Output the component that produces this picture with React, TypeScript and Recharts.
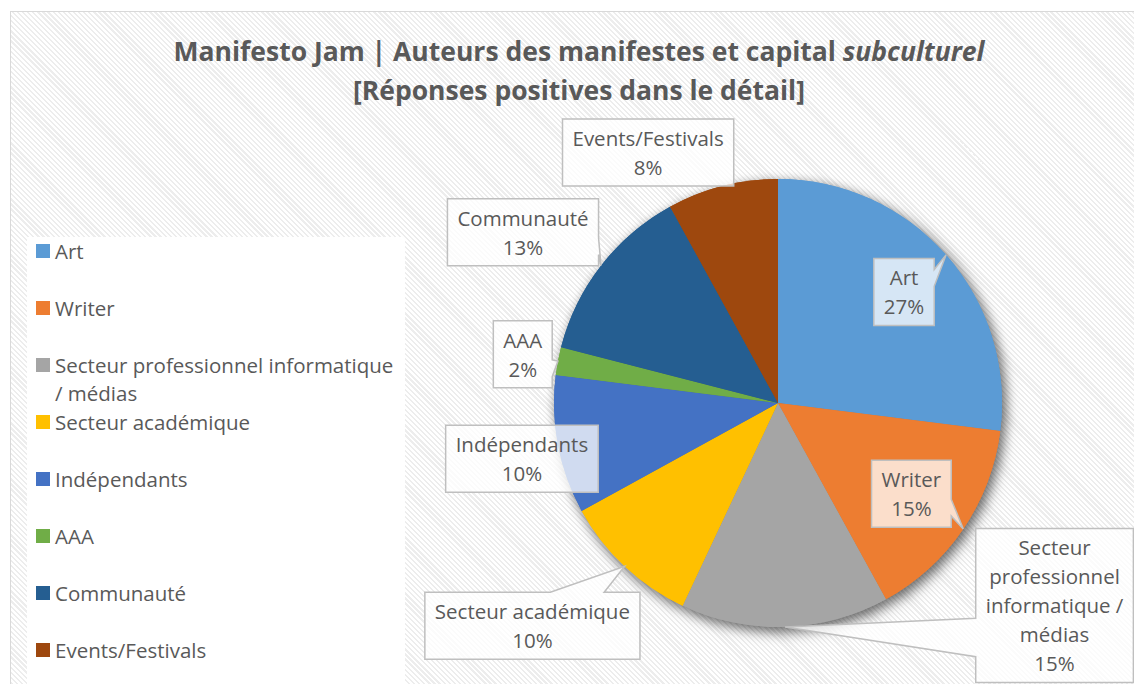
import React from "react";
import { PieChart, Pie, Cell } from "recharts";

// Manifesto Jam - auteurs des manifestes, réponses positives (%)
const categories = [
  "Art",
  "Writer",
  "Secteur professionnel informatique / médias",
  "Secteur académique",
  "Indépendants",
  "AAA",
  "Communauté",
  "Events/Festivals",
];
const shares = [27, 15, 15, 10, 10, 2, 13, 8];

const sliceColors = [
  "#5b9bd5",
  "#ed7d31",
  "#a5a5a5",
  "#ffc000",
  "#4472c4",
  "#70ad47",
  "#255e91",
  "#9e480e",
];

// where each data label sits: radius as a share of the pie radius,
// and a clockwise angle shift (deg) from the slice middle
const labelPlacement = [
  { radius: 0.75, shift: 0, wrap: 0 },
  { radius: 0.72, shift: 0, wrap: 0 },
  { radius: 1.53, shift: -52, wrap: 150 },
  { radius: 1.48, shift: 4.6, wrap: 0 },
  { radius: 1.17, shift: -1.5, wrap: 0 },
  { radius: 1.16, shift: 0, wrap: 0 },
  { radius: 1.37, shift: -4, wrap: 0 },
  { radius: 1.26, shift: -13, wrap: 0 },
];

const data = categories.map((name, i) => ({ name, value: shares[i] }));

const FONT = "'Open Sans', sans-serif";
const TEXT = "#595959";
const LABEL_SIZE = 20.5;
const LINE_H = 29;
const RAD = Math.PI / 180;

let ctx: CanvasRenderingContext2D | null = null;
function textWidth(s: string) {
  if (!ctx) ctx = document.createElement("canvas").getContext("2d");
  if (!ctx) return s.length * LABEL_SIZE * 0.55;
  ctx.font = `${LABEL_SIZE}px 'Open Sans'`;
  return ctx.measureText(s).width;
}

function wrapText(s: string, max: number) {
  if (!max) return [s];
  const lines: string[] = [];
  let cur = "";
  for (const w of s.split(" ")) {
    const next = cur ? cur + " " + w : w;
    if (cur && textWidth(next) > max) {
      lines.push(cur);
      cur = w;
    } else cur = next;
  }
  if (cur) lines.push(cur);
  return lines;
}

// Excel style rectangular callout (wedgeRectCallout)
function calloutPath(l: number, t: number, w: number, h: number, tx: number, ty: number) {
  const r = l + w;
  const b = t + h;
  const dx = tx - (l + w / 2);
  const dy = ty - (t + h / 2);
  const inside = tx >= l && tx <= r && ty >= t && ty <= b;
  const x1 = l + (w * (dx > 0 ? 7 : 2)) / 12;
  const x2 = l + (w * (dx > 0 ? 10 : 5)) / 12;
  const y1 = t + (h * (dy > 0 ? 7 : 2)) / 12;
  const y2 = t + (h * (dy > 0 ? 10 : 5)) / 12;
  const vertical = Math.abs(dy) * w > Math.abs(dx) * h;
  let p = `M${l},${t}`;
  if (!inside && vertical && dy < 0) p += ` L${x1},${t} L${tx},${ty} L${x2},${t}`;
  p += ` L${r},${t}`;
  if (!inside && !vertical && dx > 0) p += ` L${r},${y1} L${tx},${ty} L${r},${y2}`;
  p += ` L${r},${b}`;
  if (!inside && vertical && dy > 0) p += ` L${x2},${b} L${tx},${ty} L${x1},${b}`;
  p += ` L${l},${b}`;
  if (!inside && !vertical && dx < 0) p += ` L${l},${y2} L${tx},${ty} L${l},${y1}`;
  return p + " Z";
}

function renderLabel(props: any) {
  const { cx, cy, midAngle, outerRadius, index, name, percent } = props;
  const place = labelPlacement[index];
  const ang = midAngle - place.shift;
  const lx = cx + outerRadius * place.radius * Math.cos(ang * RAD);
  const ly = cy - outerRadius * place.radius * Math.sin(ang * RAD);
  const tipX = cx + outerRadius * Math.cos(midAngle * RAD);
  const tipY = cy - outerRadius * Math.sin(midAngle * RAD);

  const lines = [...wrapText(name, place.wrap), `${Math.round(percent * 100)}%`];
  const w = Math.max(...lines.map(textWidth)) + 20;
  const h = lines.length * LINE_H + 9;
  const l = lx - w / 2;
  const t = ly - h / 2;

  return (
    <g key={`lbl-${index}`}>
      <path
        d={calloutPath(l, t, w, h, tipX, tipY)}
        fill="#ffffff"
        fillOpacity={0.75}
        stroke="#bfbfbf"
        strokeWidth={1.5}
      />
      {lines.map((s, i) => (
        <text
          key={i}
          x={lx}
          y={t + 4.5 + LINE_H * i + LINE_H / 2}
          textAnchor="middle"
          dominantBaseline="central"
          fontFamily={FONT}
          fontSize={LABEL_SIZE}
          fill={TEXT}
        >
          {s}
        </text>
      ))}
    </g>
  );
}

function LegendBox() {
  return (
    <div
      style={{
        position: "absolute",
        left: 27,
        top: 237,
        width: 378,
        height: 460,
        background: "#ffffff",
        fontFamily: FONT,
        fontSize: 20.5,
        color: TEXT,
        boxSizing: "border-box",
        paddingLeft: 9,
      }}
    >
      {categories.map((name, i) => (
        <div key={name} style={{ height: 57, display: "flex", lineHeight: "28px" }}>
          <span
            style={{
              width: 14,
              height: 14,
              marginTop: 7,
              marginRight: 5,
              flex: "none",
              background: sliceColors[i],
            }}
          />
          <span style={{ width: 350 }}>{name}</span>
        </div>
      ))}
    </div>
  );
}

export default function App() {
  return (
    <div
      style={{
        position: "relative",
        width: 1134,
        height: 684,
        overflow: "hidden",
        background: "#ffffff",
      }}
    >
      <style>{`body{margin:0} .pie-shadow{filter:drop-shadow(3px 4px 6px rgba(0,0,0,0.35))}`}</style>
      <div
        style={{
          position: "absolute",
          left: 10,
          top: 11,
          width: 1160,
          height: 700,
          border: "1.5px solid #d9d9d9",
          background:
            "repeating-linear-gradient(45deg, #ffffff 0px, #ffffff 2px, #ededed 2px, #ededed 3.6px)",
        }}
      />
      <div
        style={{
          position: "absolute",
          left: 0,
          top: 32,
          width: 1158,
          textAlign: "center",
          fontFamily: FONT,
          fontWeight: 700,
          fontSize: 26.5,
          lineHeight: "39px",
          color: TEXT,
        }}
      >
        Manifesto Jam | Auteurs des manifestes et capital <i>subculturel</i>
        <br />
        [Réponses positives dans le détail]
      </div>
      <LegendBox />
      <div style={{ position: "absolute", left: 0, top: 0 }}>
        <PieChart width={1134} height={684} margin={{ top: 0, right: 0, bottom: 0, left: 0 }}>
          <Pie
            className="pie-shadow"
            data={data}
            dataKey="value"
            nameKey="name"
            cx={778}
            cy={403}
            outerRadius={224}
            startAngle={90}
            endAngle={-270}
            stroke="none"
            legendType="none"
            label={false}
            labelLine={false}
            isAnimationActive={false}
          >
            {data.map((d, i) => (
              <Cell key={d.name} fill={sliceColors[i]} />
            ))}
          </Pie>
          <Pie
            data={data}
            dataKey="value"
            nameKey="name"
            cx={778}
            cy={403}
            outerRadius={224}
            startAngle={90}
            endAngle={-270}
            stroke="none"
            label={renderLabel}
            labelLine={false}
            isAnimationActive={false}
          >
            {data.map((d, i) => (
              <Cell key={d.name} fill={sliceColors[i]} />
            ))}
          </Pie>
        </PieChart>
      </div>
    </div>
  );
}
